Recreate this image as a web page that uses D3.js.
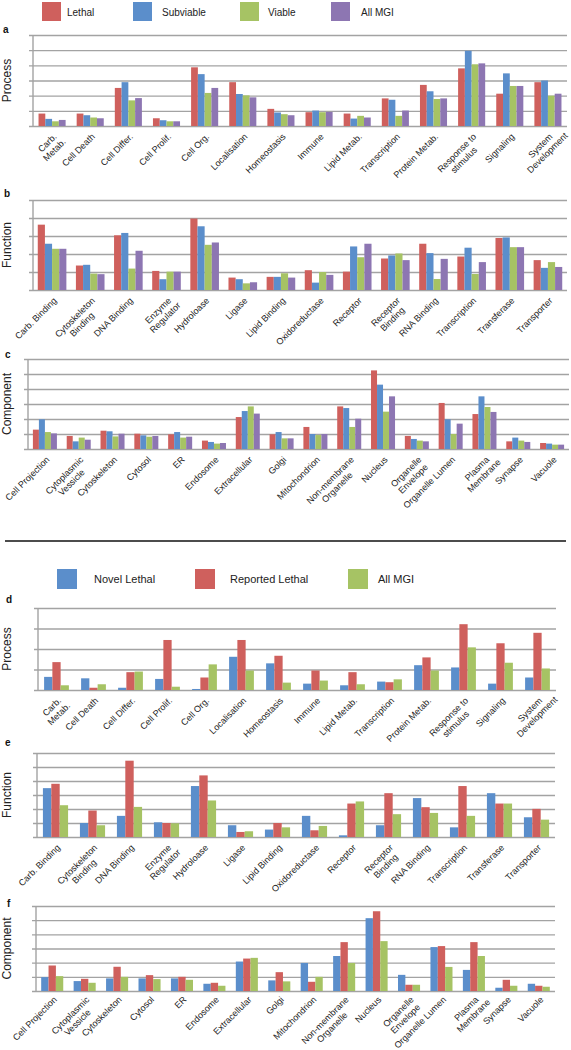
<!DOCTYPE html>
<html><head><meta charset="utf-8">
<script src="https://cdn.jsdelivr.net/npm/d3@7"></script>
<style>body{margin:0;background:#fff} text{font-family:"Liberation Sans",Arial,sans-serif}</style>
</head><body><svg id="c" width="571" height="1050"></svg>
<script>
// ---------- categories ----------
const processCats = ["Carb.\nMetab.","Cell Death","Cell Differ.","Cell Prolif.","Cell Org.","Localisation","Homeostasis","Immune","Lipid Metab.","Transcription","Protein Metab.","Response to\nstimulus","Signaling","System\nDevelopment"];
const functionCats = ["Carb. Binding","Cytoskeleton\nBinding","DNA Binding","Enzyme\nRegulator","Hydroloase","Ligase","Lipid Binding","Oxidoreductase","Receptor","Receptor\nBinding","RNA Binding","Transcription","Transferase","Transporter"];
const componentCats = ["Cell Projection","Cytoplasmic\nVessicle","Cytoskeleton","Cytosol","ER","Endosome","Extracellular","Golgi","Mitochondrion","Non-membrane\nOrganelle","Nucleus","Organelle\nEnvelope","Organelle Lumen","Plasma\nMembrane","Synapse","Vacuole"];

// ---------- legends ----------
const topLegend = ["Lethal","Subviable","Viable","All MGI"];
const bottomLegend = ["Novel Lethal","Reported Lethal","All MGI"];

// ---------- panel a (Process) ----------
const aLethal    = [0.82,0.82,2.51,0.51,3.87,2.89,1.13,0.91,0.82,1.82,2.71,3.80,2.13,2.89];
const aSubviable = [0.47,0.71,2.89,0.38,3.42,2.11,0.89,1.02,0.49,1.73,2.29,4.96,3.47,3.00];
const aViable    = [0.31,0.56,1.69,0.31,2.18,2.02,0.78,0.91,0.67,0.67,1.78,4.07,2.64,2.00];
const aAllMGI    = [0.40,0.51,1.84,0.31,2.51,1.89,0.71,0.93,0.56,1.02,1.82,4.13,2.64,2.13];
// ---------- panel b (Function) ----------
const bLethal    = [3.63,1.36,3.04,1.06,3.97,0.69,0.73,1.10,1.02,1.75,2.57,1.86,2.89,1.66];
const bSubviable = [2.57,1.40,3.17,0.60,3.54,0.60,0.73,0.41,2.42,1.92,2.05,2.35,2.92,1.23];
const bViable    = [2.29,0.91,1.19,1.02,2.51,0.37,0.93,1.00,1.82,2.03,0.61,0.89,2.38,1.55];
const bAllMGI    = [2.29,0.88,2.18,1.02,2.64,0.43,0.69,0.84,2.57,1.66,1.73,1.55,2.38,1.28];
// ---------- panel c (Component) ----------
const cLethal    = [1.29,0.87,1.22,1.02,0.98,0.56,2.13,0.98,1.47,2.84,5.24,0.87,3.07,2.33,0.51,0.40];
const cSubviable = [1.98,0.51,1.18,0.91,1.13,0.47,2.53,1.13,1.00,2.73,4.29,0.67,1.98,3.51,0.76,0.36];
const cViable    = [1.13,0.76,0.84,0.82,0.76,0.36,2.84,0.71,0.93,1.47,2.49,0.56,1.00,2.80,0.56,0.29];
const cAllMGI    = [1.04,0.62,1.02,0.87,0.82,0.40,2.36,0.71,1.00,2.02,3.51,0.51,1.69,2.47,0.47,0.29];
// ---------- panel d (Process) ----------
const dNovel     = [0.64,0.57,0.11,0.54,0.05,1.62,1.30,0.31,0.23,0.41,1.21,1.10,0.31,0.61];
const dReported  = [1.36,0.11,0.87,2.44,0.61,2.44,1.67,0.95,0.87,0.38,1.59,3.21,2.28,2.79];
const dAllMGI    = [0.23,0.28,0.90,0.16,1.25,0.95,0.36,0.46,0.28,0.52,0.95,2.08,1.33,1.05];
// ---------- panel e (Function) ----------
const eNovel     = [3.49,1.00,1.51,1.05,3.64,0.84,0.53,1.51,0.12,0.84,2.78,0.69,3.13,1.41];
const eReported  = [3.80,1.89,5.45,1.00,4.40,0.36,1.00,0.48,2.39,3.13,2.13,3.64,2.39,2.01];
const eAllMGI    = [2.27,0.84,2.15,0.98,2.61,0.41,0.69,0.79,2.54,1.63,1.72,1.51,2.39,1.24];
// ---------- panel f (Component) ----------
const fNovel     = [0.98,0.70,0.89,0.89,0.89,0.51,2.08,0.75,1.98,2.47,5.14,1.14,3.10,1.49,0.23,0.51];
const fReported  = [1.80,0.86,1.71,1.12,1.00,0.58,2.29,1.33,0.65,3.45,5.63,0.44,3.17,3.45,0.79,0.37];
const fAllMGI    = [1.05,0.58,1.00,0.84,0.79,0.37,2.34,0.68,1.00,1.98,3.52,0.44,1.70,2.47,0.37,0.30];

const RED="#CF605D", BLUE="#5B8ECB", GREEN="#A6C364", PURPLE="#8D76B2", GRID="#A3A3A3";
const svg = d3.select("#c");

function drawPanel(o){
  const g = svg.append("g");
  const x = d3.scaleBand().domain(o.cats).range([o.x0,o.x1]).paddingInner(o.pad).paddingOuter(o.pad/2);
  const y = d3.scaleLinear().domain([0,o.nGrid]).range([o.yBot,o.yTop]);
  const ax = g.append("g").attr("transform",`translate(${o.x1},0)`)
    .call(d3.axisLeft(y).ticks(o.nGrid).tickSize(o.x1-o.x0+4).tickFormat(""));
  ax.select(".domain").remove();
  ax.selectAll(".tick line").attr("stroke",GRID).attr("stroke-width",1.4);
  g.append("line").attr("x1",o.x0).attr("x2",o.x0).attr("y1",o.yTop).attr("y2",o.yBot)
    .attr("stroke",GRID).attr("stroke-width",1.4);
  const n = o.series.length;
  const bw = x.bandwidth()/n;
  o.series.forEach((s,si)=>{
    g.append("g").selectAll("rect").data(s.values).join("rect")
      .attr("x",(d,i)=>x(o.cats[i])+si*bw).attr("width",bw)
      .attr("y",d=>y(d)).attr("height",d=>y(0)-y(d)).attr("fill",s.color);
  });
  o.cats.forEach(c=>{
    const lines = c.split("\n");
    const cx = x(c)+x.bandwidth()/2 + 3;
    const t = g.append("text").attr("transform",`translate(${cx},${o.yBot+(o.labOff||9)}) rotate(-45)`)
      .attr("font-size",9).attr("fill","#222").attr("text-anchor","middle");
    const tsp = lines.map((l,i)=>t.append("tspan").attr("x",0).attr("y",i*10).attr("dy","0.35em").text(l));
    const first = tsp[0].node().getComputedTextLength();
    tsp.forEach(s=>s.attr("x", -first/2));
  });
  svg.append("text").attr("transform",`translate(11,${(o.yTop+o.yBot)/2}) rotate(-90)`)
    .attr("text-anchor","middle").attr("font-size",12).attr("fill","#222").text(o.title);
  svg.append("text").attr("x",o.lx).attr("y",o.ly).attr("font-size",10).attr("font-weight","bold")
    .attr("fill","#111").text(o.letter);
}

const topCols=[RED,BLUE,GREEN,PURPLE], topSx=[42,133,240,331], topTx=[67,162,268,361];
topLegend.forEach((l,i)=>{
  svg.append("rect").attr("x",topSx[i]).attr("y",2).attr("width",19).attr("height",19).attr("fill",topCols[i]);
  svg.append("text").attr("x",topTx[i]).attr("y",12).attr("dy","0.35em").attr("font-size",10).attr("fill","#222").text(l);
});
const botCols=[BLUE,RED,GREEN], botSx=[57,195,348], botTx=[94,230,378];
bottomLegend.forEach((l,i)=>{
  svg.append("rect").attr("x",botSx[i]).attr("y",569).attr("width",20).attr("height",20).attr("fill",botCols[i]);
  svg.append("text").attr("x",botTx[i]).attr("y",579).attr("dy","0.35em").attr("font-size",11).attr("fill","#222").text(l);
});
svg.append("line").attr("x1",5).attr("x2",566).attr("y1",541).attr("y2",541).attr("stroke","#111").attr("stroke-width",1.5);

drawPanel({cats:processCats,x0:33,x1:567,yTop:35,yBot:126,nGrid:6,pad:0.29,title:"Process",letter:"a",lx:3,ly:33,
  series:[{values:aLethal,color:RED},{values:aSubviable,color:BLUE},{values:aViable,color:GREEN},{values:aAllMGI,color:PURPLE}]});
drawPanel({cats:functionCats,x0:33,x1:567,yTop:200,yBot:290,nGrid:5,pad:0.25,title:"Function",letter:"b",lx:4,ly:197,
  series:[{values:bLethal,color:RED},{values:bSubviable,color:BLUE},{values:bViable,color:GREEN},{values:bAllMGI,color:PURPLE}]});
drawPanel({cats:componentCats,x0:28,x1:569,yTop:359,yBot:449,nGrid:6,pad:0.29,title:"Component",letter:"c",lx:5,ly:358,
  series:[{values:cLethal,color:RED},{values:cSubviable,color:BLUE},{values:cViable,color:GREEN},{values:cAllMGI,color:PURPLE}]});
drawPanel({cats:processCats,x0:38,x1:556,yTop:608,yBot:690,nGrid:4,pad:0.33,title:"Process",letter:"d",lx:6,ly:603,
  series:[{values:dNovel,color:BLUE},{values:dReported,color:RED},{values:dAllMGI,color:GREEN}]});
drawPanel({cats:functionCats,x0:37,x1:555,yTop:753,yBot:837,nGrid:6,pad:0.32,title:"Function",letter:"e",lx:5,ly:746,
  series:[{values:eNovel,color:BLUE},{values:eReported,color:RED},{values:eAllMGI,color:GREEN}]});
drawPanel({cats:componentCats,x0:36,x1:555,yTop:906,yBot:991,nGrid:6,pad:0.32,title:"Component",letter:"f",lx:7,ly:907,labOff:7,
  series:[{values:fNovel,color:BLUE},{values:fReported,color:RED},{values:fAllMGI,color:GREEN}]});
</script></body></html>
